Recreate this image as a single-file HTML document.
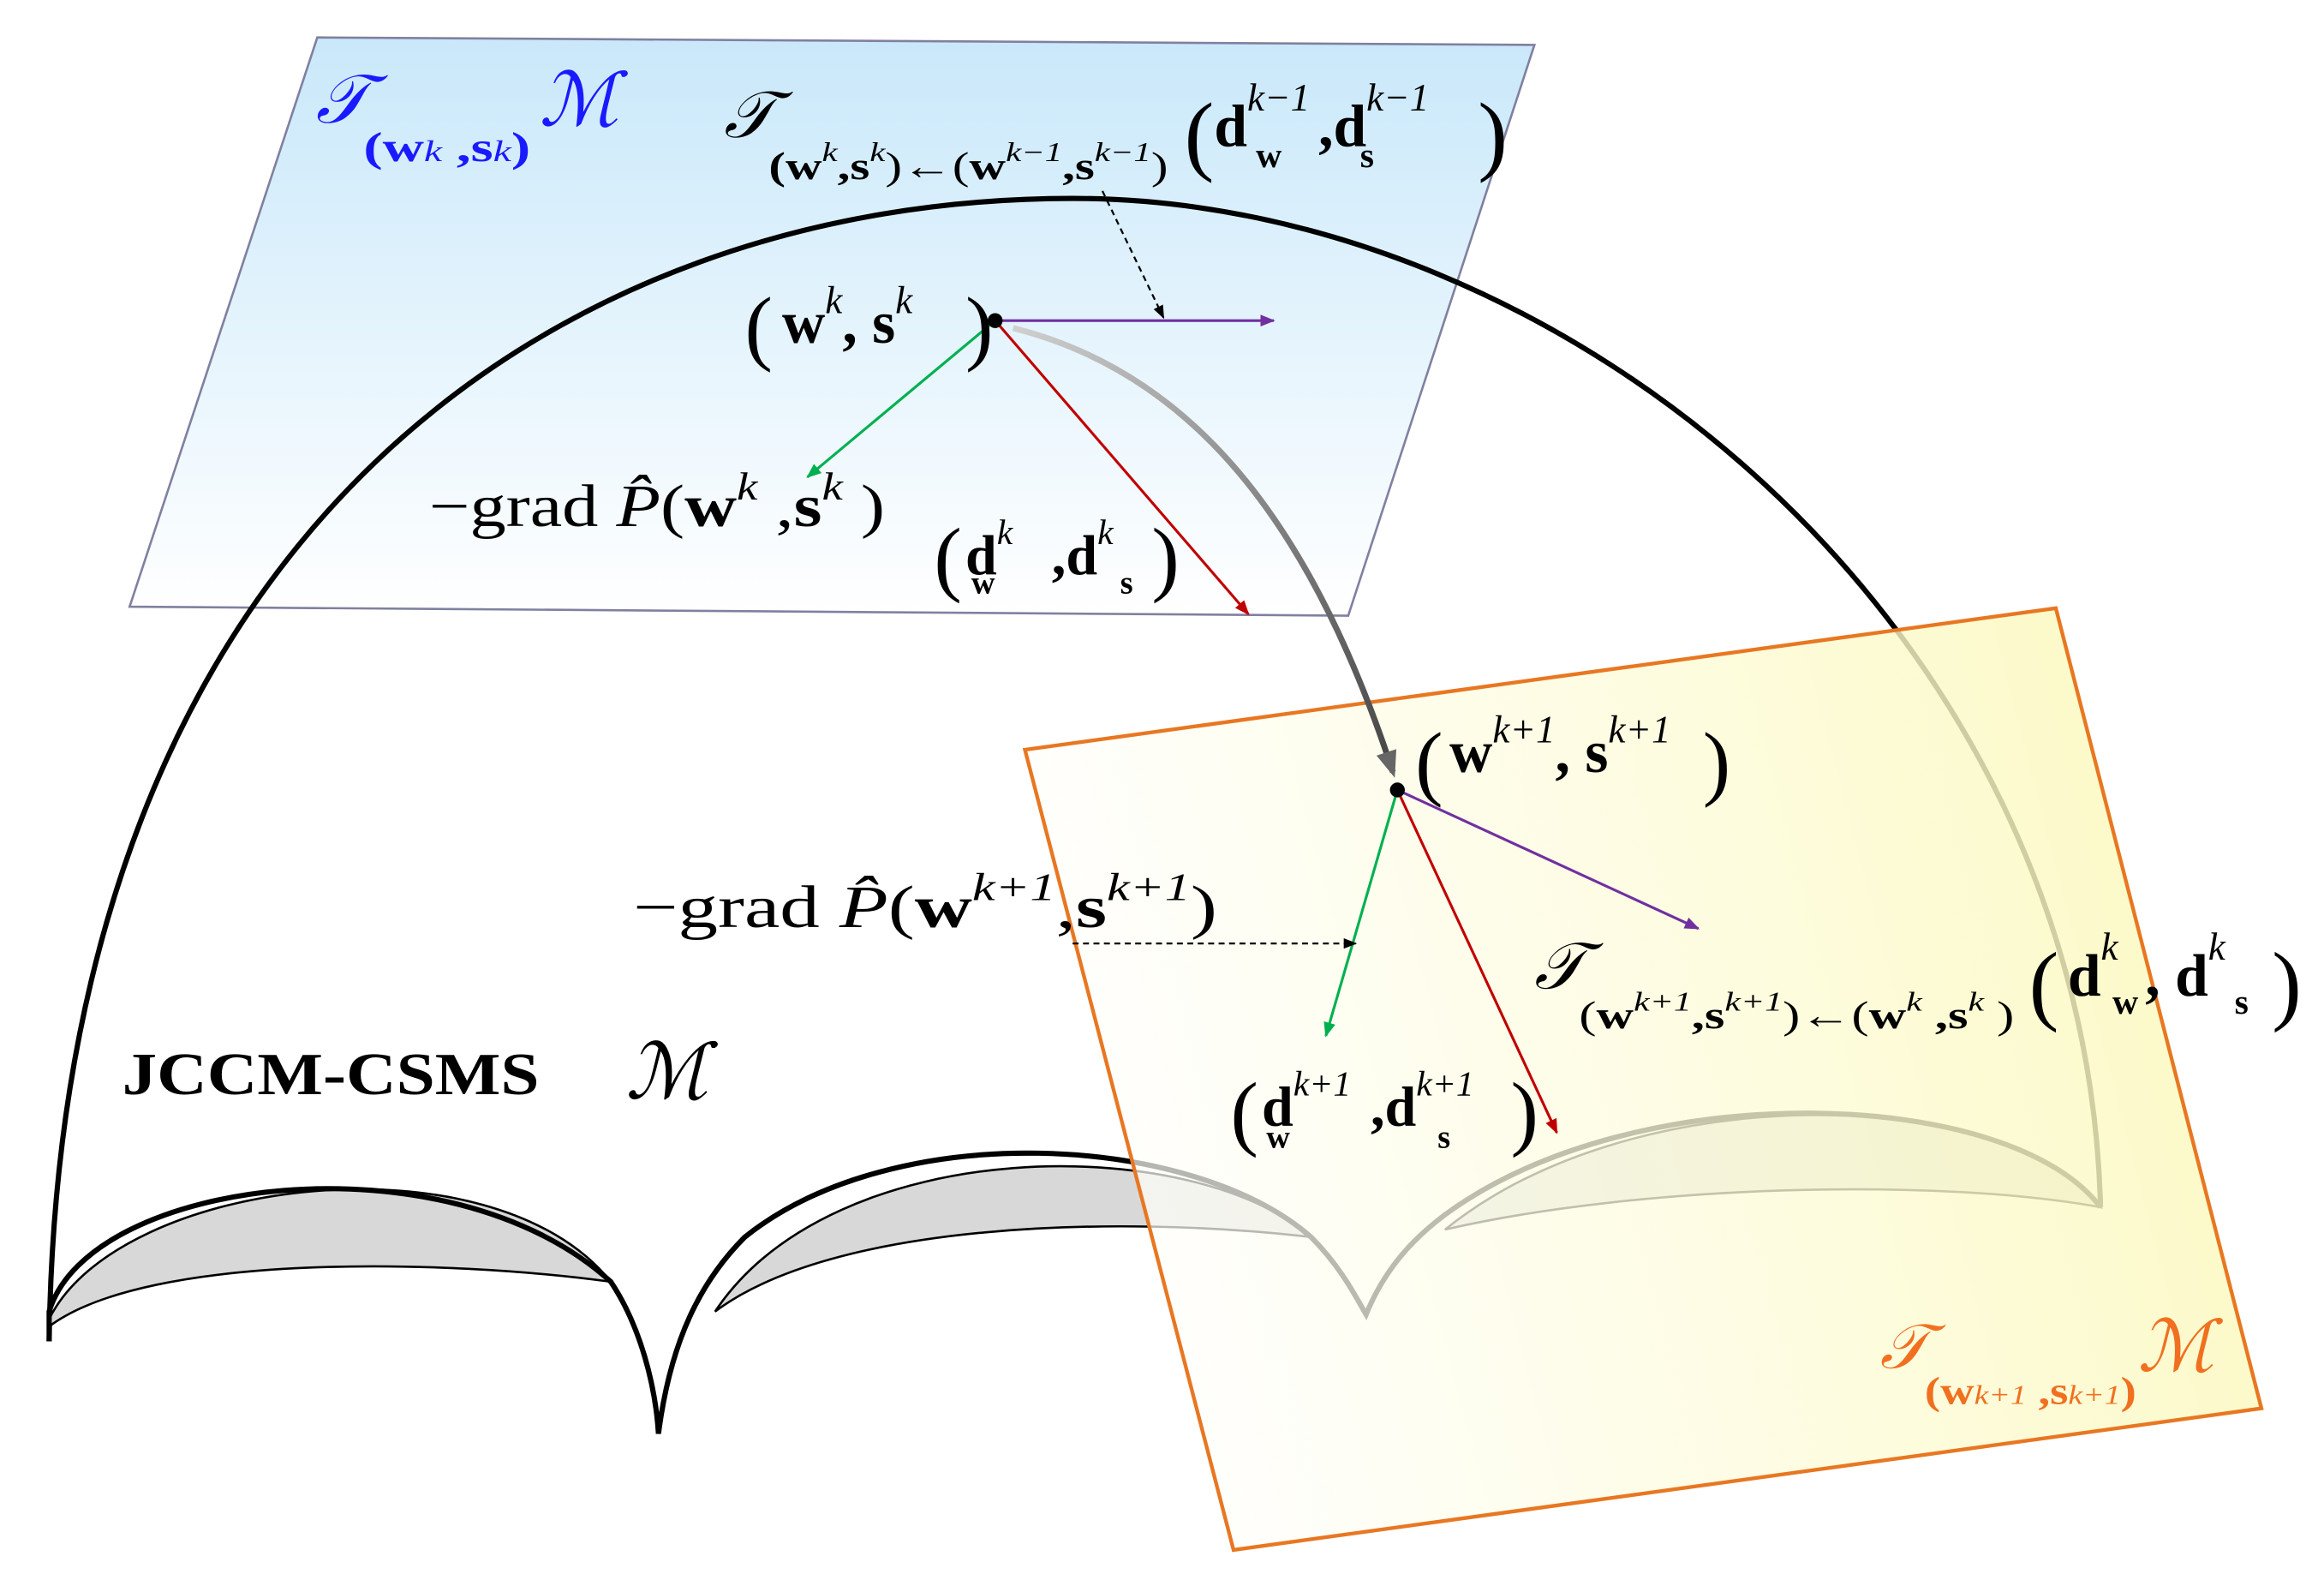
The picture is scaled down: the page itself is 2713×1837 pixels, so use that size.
<!DOCTYPE html>
<html><head><meta charset="utf-8"><style>
html,body{margin:0;padding:0;background:#fff}
svg{display:block}
text{font-family:"Liberation Serif",serif}
.b{font-weight:bold}
.i{font-style:italic}
</style></head><body>
<svg width="2713" height="1837" viewBox="0 0 1560 1056" xmlns="http://www.w3.org/2000/svg">
<defs>
<linearGradient id="gb" x1="0" y1="0" x2="0" y2="1">
<stop offset="0" stop-color="#c9e8fa"/><stop offset="1" stop-color="#ffffff"/></linearGradient>
<linearGradient id="go" x1="0" y1="0.5" x2="1" y2="0.3">
<stop offset="0" stop-color="#ffffff" stop-opacity="0.7"/><stop offset="1" stop-color="#fbf8b8" stop-opacity="0.85"/></linearGradient>
<linearGradient id="gg" x1="0" y1="0" x2="1" y2="1">
<stop offset="0" stop-color="#d0d0d0"/><stop offset="1" stop-color="#444"/></linearGradient>
<marker id="ap" markerWidth="10" markerHeight="8" refX="9" refY="4" orient="auto" markerUnits="userSpaceOnUse"><path d="M0,0 L10,4 L0,8z" fill="#7030a0"/></marker>
<marker id="ag" markerWidth="10" markerHeight="8" refX="9" refY="4" orient="auto" markerUnits="userSpaceOnUse"><path d="M0,0 L10,4 L0,8z" fill="#00b050"/></marker>
<marker id="ar" markerWidth="10" markerHeight="8" refX="9" refY="4" orient="auto" markerUnits="userSpaceOnUse"><path d="M0,0 L10,4 L0,8z" fill="#c00000"/></marker>
<marker id="ak" markerWidth="9" markerHeight="7" refX="8" refY="3.5" orient="auto" markerUnits="userSpaceOnUse"><path d="M0,0 L9,3.5 L0,7z" fill="#000"/></marker>
<marker id="ab" markerWidth="18" markerHeight="14" refX="14" refY="7" orient="auto" markerUnits="userSpaceOnUse"><path d="M0,0 L18,7 L0,14z" fill="#666"/></marker>
</defs>
<polygon points="213,25 1030,30 905,413 87,407" fill="url(#gb)" stroke="#8080a0" stroke-width="1.5"/>
<path d="M33,900 C 40,350 380,133 720,133 C 1050,133 1400,420 1410,810" fill="none" stroke="#000" stroke-width="3.5"/>
<path d="M33,885 C 80,790 330,760 410,860 C 300,845 100,840 33,890 Z" fill="#d8d8d8" stroke="#000" stroke-width="1.5"/>
<path d="M480,880 C 560,760 800,760 880,830 C 750,815 560,820 480,880 Z" fill="#d8d8d8" stroke="#000" stroke-width="1.5"/>
<path d="M970,825 C 1100,720 1350,730 1410,810 C 1300,790 1100,795 970,825 Z" fill="#d8d8d8" stroke="#000" stroke-width="1.5"/>
<path d="M33,900 L33,880 C 60,790 300,760 410,860 C 430,890 440,930 442,962 C 450,900 470,860 500,830 C 600,750 800,760 880,830 C 900,850 910,870 917,882 C 930,850 950,830 970,815 C 1100,720 1350,730 1410,810" fill="none" stroke="#000" stroke-width="3.5"/>
<polygon points="688,503 1380,408 1518,945 828,1040" fill="url(#go)" stroke="#e87722" stroke-width="2.5"/>
<path d="M680,220 C 800,250 880,350 935,518" fill="none" stroke="url(#gg)" stroke-width="4" marker-end="url(#ab)"/>
<line x1="668" y1="215" x2="855" y2="215" stroke="#7030a0" stroke-width="1.8" marker-end="url(#ap)"/>
<line x1="668" y1="215" x2="542" y2="320" stroke="#00b050" stroke-width="1.8" marker-end="url(#ag)"/>
<line x1="668" y1="215" x2="838" y2="412" stroke="#c00000" stroke-width="1.8" marker-end="url(#ar)"/>
<line x1="740" y1="128" x2="781" y2="213" stroke="#000" stroke-width="1.3" stroke-dasharray="4,3" marker-end="url(#ak)"/>
<circle cx="668" cy="215" r="5" fill="#000"/>
<line x1="938" y1="530" x2="1140" y2="623" stroke="#7030a0" stroke-width="1.8" marker-end="url(#ap)"/>
<line x1="938" y1="530" x2="890" y2="695" stroke="#00b050" stroke-width="1.8" marker-end="url(#ag)"/>
<line x1="938" y1="530" x2="1045" y2="760" stroke="#c00000" stroke-width="1.8" marker-end="url(#ar)"/>
<line x1="720" y1="633" x2="910" y2="633" stroke="#000" stroke-width="1.3" stroke-dasharray="4,3" marker-end="url(#ak)"/>
<circle cx="938" cy="530" r="5" fill="#000"/>
<text x="212" y="82" font-size="46" fill="#1a1aff" class="i">𝒯</text>
<text x="244" y="108" font-size="28" fill="#1a1aff" class="b" textLength="112" lengthAdjust="spacingAndGlyphs">(w<tspan class="i" font-size="20" font-weight="normal">k</tspan> ,s<tspan class="i" font-size="20" font-weight="normal">k</tspan>)</text>
<text x="362" y="84" font-size="50" fill="#1a1aff" class="i">ℳ</text>
<text x="486" y="92" font-size="44" class="i">𝒯</text>
<text x="516" y="120" font-size="26" textLength="268" lengthAdjust="spacingAndGlyphs"><tspan class="b">(w</tspan><tspan class="i" font-size="18" dy="-12">k</tspan><tspan class="b" dy="12">,s</tspan><tspan class="i" font-size="18" dy="-12">k</tspan><tspan dy="12">)←(</tspan><tspan class="b">w</tspan><tspan class="i" font-size="18" dy="-12">k−1</tspan><tspan class="b" dy="12">,s</tspan><tspan class="i" font-size="18" dy="-12">k−1</tspan><tspan dy="12">)</tspan></text>
<text x="795" y="110" font-size="60">(</text>
<text x="815" y="98" font-size="40" class="b">d<tspan class="i" font-size="26" font-weight="normal" dy="-24">k−1</tspan></text>
<text x="843" y="112" font-size="24" class="b">w</text>
<text x="885" y="98" font-size="40" class="b">,d<tspan class="i" font-size="26" font-weight="normal" dy="-24">k−1</tspan></text>
<text x="913" y="112" font-size="24" class="b">s</text>
<text x="992" y="110" font-size="60">)</text>
<text x="500" y="238" font-size="56">(</text>
<text x="525" y="230" font-size="40" class="b">w<tspan class="i" font-size="26" font-weight="normal" dy="-20">k</tspan><tspan dy="20">, s</tspan><tspan class="i" font-size="26" font-weight="normal" dy="-20">k</tspan></text>
<text x="648" y="238" font-size="56">)</text>
<text x="288" y="353" font-size="40" textLength="306" lengthAdjust="spacingAndGlyphs">−grad <tspan class="i">P̂</tspan>(<tspan class="b">w</tspan><tspan class="i" font-size="26" dy="-18">k</tspan><tspan dy="18"> ,</tspan><tspan class="b">s</tspan><tspan class="i" font-size="26" dy="-18">k</tspan><tspan dy="18"> )</tspan></text>
<text x="627" y="393" font-size="56">(</text>
<text x="648" y="385" font-size="38" class="b">d<tspan class="i" font-size="24" font-weight="normal" dy="-20">k</tspan></text>
<text x="652" y="398" font-size="22" class="b">w</text>
<text x="706" y="385" font-size="38" class="b">,d<tspan class="i" font-size="24" font-weight="normal" dy="-20">k</tspan></text>
<text x="752" y="398" font-size="22" class="b">s</text>
<text x="773" y="393" font-size="56">)</text>
<text x="950" y="530" font-size="56">(</text>
<text x="973" y="518" font-size="40" class="b">w<tspan class="i" font-size="26" font-weight="normal" dy="-20">k+1</tspan><tspan dy="20">, s</tspan><tspan class="i" font-size="26" font-weight="normal" dy="-20">k+1</tspan></text>
<text x="1143" y="530" font-size="56">)</text>
<text x="425" y="622" font-size="40" textLength="392" lengthAdjust="spacingAndGlyphs">−grad <tspan class="i">P̂</tspan>(<tspan class="b">w</tspan><tspan class="i" font-size="26" dy="-18">k+1</tspan><tspan dy="18">,</tspan><tspan class="b">s</tspan><tspan class="i" font-size="26" dy="-18">k+1</tspan><tspan dy="18">)</tspan></text>
<text x="1030" y="663" font-size="44" class="i">𝒯</text>
<text x="1060" y="690" font-size="26" textLength="292" lengthAdjust="spacingAndGlyphs"><tspan>(</tspan><tspan class="b">w</tspan><tspan class="i" font-size="18" dy="-12">k+1</tspan><tspan class="b" dy="12">,s</tspan><tspan class="i" font-size="18" dy="-12">k+1</tspan><tspan dy="12">)←(</tspan><tspan class="b">w</tspan><tspan class="i" font-size="18" dy="-12">k</tspan><tspan class="b" dy="12"> ,s</tspan><tspan class="i" font-size="18" dy="-12">k</tspan><tspan dy="12"> )</tspan></text>
<text x="1362" y="680" font-size="60">(</text>
<text x="1388" y="668" font-size="40" class="b">d<tspan class="i" font-size="26" font-weight="normal" dy="-24">k</tspan></text>
<text x="1418" y="680" font-size="24" class="b">w</text>
<text x="1440" y="668" font-size="40" class="b">, d<tspan class="i" font-size="26" font-weight="normal" dy="-24">k</tspan></text>
<text x="1500" y="680" font-size="24" class="b">s</text>
<text x="1525" y="680" font-size="60">)</text>
<text x="826" y="765" font-size="56">(</text>
<text x="847" y="755" font-size="38" class="b">d<tspan class="i" font-size="24" font-weight="normal" dy="-20">k+1</tspan></text>
<text x="850" y="770" font-size="22" class="b">w</text>
<text x="920" y="755" font-size="38" class="b">,d<tspan class="i" font-size="24" font-weight="normal" dy="-20">k+1</tspan></text>
<text x="965" y="770" font-size="22" class="b">s</text>
<text x="1014" y="765" font-size="56">)</text>
<text x="82" y="734" font-size="40" class="b" textLength="280" lengthAdjust="spacingAndGlyphs">JCCM-CSMS</text>
<text x="420" y="737" font-size="52" class="i">ℳ</text>
<text x="1262" y="918" font-size="42" fill="#f07020" class="i">𝒯</text>
<text x="1292" y="942" font-size="26" fill="#f07020" class="b" textLength="142" lengthAdjust="spacingAndGlyphs">(w<tspan class="i" font-size="18" font-weight="normal">k+1</tspan> ,s<tspan class="i" font-size="18" font-weight="normal">k+1</tspan>)</text>
<text x="1435" y="920" font-size="48" fill="#f07020" class="i">ℳ</text>
</svg>
</body></html>
